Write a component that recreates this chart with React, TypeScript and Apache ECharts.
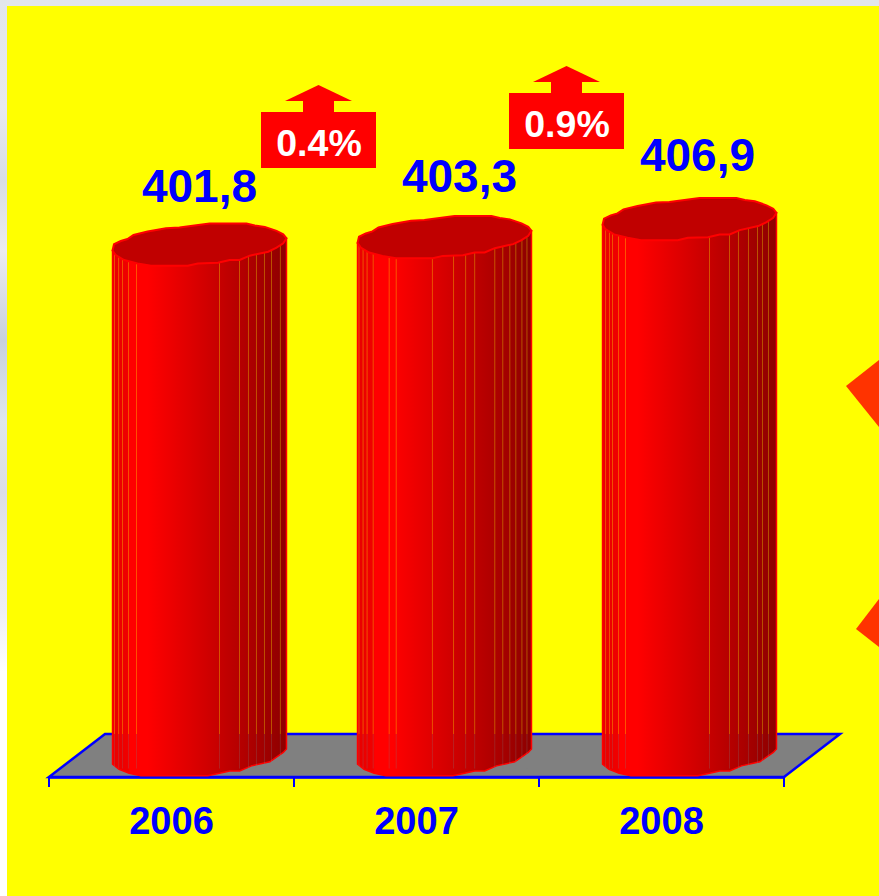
import React, { useEffect, useRef } from "react";
import * as echarts from "echarts";

const categories = ["2006", "2007", "2008"];
const values = [401.8, 403.3, 406.9];
const changeLabels = ["0.4%", "0.9%"];

// Shape templates of the faceted cylinder, in units of its half-width.
const capOutline = [
  [-1, 0.065], [-0.983, -0.006], [-0.905, -0.044], [-0.828, -0.067], [-0.759, -0.113], [-0.597, -0.152],
  [-0.385, -0.191], [-0.231, -0.198], [-0.058, -0.222], [0.116, -0.245], [0.54, -0.245], [0.636, -0.222],
  [0.751, -0.206], [0.886, -0.16], [0.963, -0.121], [1, -0.075], [0.963, -0.017], [0.886, 0.033],
  [0.79, 0.079], [0.578, 0.125], [0.462, 0.175], [0.347, 0.175], [0.212, 0.206], [-0.019, 0.214],
  [-0.135, 0.241], [-0.558, 0.241], [-0.713, 0.214], [-0.867, 0.175], [-0.963, 0.118],
];
const baseOutline = [
  [-1, 0.1], [-0.925, 0.158], [-0.809, 0.204], [-0.674, 0.232], [0.096, 0.232], [0.231, 0.204], [0.347, 0.177],
  [0.462, 0.177], [0.598, 0.119], [0.809, 0.073], [0.881, 0.022], [0.963, -0.035], [1, -0.074],
];
const facetEdges = [
  [-0.977, -0.93, -0.885, -0.816, -0.724, 0.23, 0.46, 0.563, 0.655, 0.747, 0.828, 0.93],
  [-0.983, -0.936, -0.89, -0.82, -0.636, -0.555, -0.139, 0.104, 0.243, 0.347, 0.578, 0.67, 0.751, 0.82, 0.89, 0.948],
  [-0.965, -0.92, -0.885, -0.816, -0.736, 0.23, 0.46, 0.563, 0.678, 0.782, 0.839, 0.908],
];
const labelNudge = [[0, -1.5], [15, -4], [8, -7]];

const W = 879;
const H = 896;
const GRID = { left: 49, right: W - 784, top: 175, bottom: H - 777 };
const AXIS_MIN = 300;
const AXIS_MAX = 420;
const DEPTH_X = 28;
const DEPTH_Y = 21.5;
const HALF_WIDTH_RATIO = 0.355;
const FLOOR_BACK_Y = 734;
const FONT = '"Liberation Sans", Arial, sans-serif';

const sideFill = () =>
  new echarts.graphic.LinearGradient(0, 0, 1, 0, [
    { offset: 0, color: "#e80000" },
    { offset: 0.09, color: "#f00000" },
    { offset: 0.1, color: "#ff0000" },
    { offset: 0.2, color: "#ff0000" },
    { offset: 0.43, color: "#e00000" },
    { offset: 0.6, color: "#c80000" },
    { offset: 0.8, color: "#ac0000" },
    { offset: 1, color: "#8c0000" },
  ]);

function renderCylinder(params: any, api: any) {
  const idx = api.value(0);
  const v = api.value(1);
  const top = api.coord([idx, v]);
  const base = api.coord([idx, AXIS_MIN]);
  const band = api.size([1, 0])[0];
  const r = band * HALF_WIDTH_RATIO;
  const cx = top[0] + DEPTH_X;
  const cyTop = top[1] - DEPTH_Y;
  const cyBase = base[1] - DEPTH_Y;

  const side = [
    [cx - r, cyTop + capOutline[0][1] * r],
    ...baseOutline.map(([a, b]) => [cx + a * r, cyBase + b * r]),
    [cx + r, cyTop + capOutline[15][1] * r],
  ];

  const children: any[] = [
    {
      type: "polygon",
      shape: { points: side },
      style: { fill: sideFill(), stroke: "#ff0000", lineWidth: 1.5 },
    },
  ];
  facetEdges[idx].forEach((e) => {
    const x = cx + e * r;
    children.push({
      type: "line",
      shape: { x1: x, y1: cyTop, x2: x, y2: FLOOR_BACK_Y },
      style: { stroke: "#ffff00", opacity: 0.32, lineWidth: 1 },
    });
    children.push({
      type: "line",
      shape: { x1: x, y1: FLOOR_BACK_Y, x2: x, y2: cyBase + 0.15 * r },
      style: { stroke: "#808080", opacity: 0.25, lineWidth: 1 },
    });
  });
  children.push({
    type: "polygon",
    shape: { points: capOutline.map(([a, b]) => [cx + a * r, cyTop + b * r]) },
    style: { fill: "#c00000", stroke: "#ff0000", lineWidth: 2 },
  });
  const n = labelNudge[idx];
  children.push({
    type: "text",
    style: {
      text: String(v.toFixed(1)).replace(".", ","),
      x: cx + n[0],
      y: cyTop - 57 + n[1],
      fill: "#0000ff",
      font: `bold 46px ${FONT}`,
      align: "center",
      verticalAlign: "middle",
    },
  });
  return { type: "group", children };
}

function callout(label: string, left: number, top: number) {
  const cx = left + 57.5;
  return {
    type: "group",
    z: 20,
    children: [
      { type: "rect", z: 20, shape: { x: left, y: top, width: 115, height: 56 }, style: { fill: "#ff0000" } },
      { type: "rect", z: 20, shape: { x: cx - 15.5, y: top - 11, width: 31, height: 11 }, style: { fill: "#ff0000" } },
      {
        type: "polygon",
        z: 20,
        shape: { points: [[cx - 33.5, top - 11], [cx + 33.5, top - 11], [cx, top - 27]] },
        style: { fill: "#ff0000" },
      },
      {
        type: "text",
        z: 21,
        style: {
          text: label,
          x: cx + 0.5,
          y: top + 31,
          fill: "#ffffff",
          font: `bold 37.5px ${FONT}`,
          align: "center",
          verticalAlign: "middle",
        },
      },
    ],
  };
}

export default function App() {
  const ref = useRef<HTMLDivElement>(null);
  useEffect(() => {
    const chart = echarts.init(ref.current!, undefined, { renderer: "svg" });
    chart.setOption({
      animation: false,
      backgroundColor: "transparent",
      grid: GRID,
      xAxis: {
        type: "category",
        data: categories,
        boundaryGap: true,
        axisLine: { show: true, onZero: false, lineStyle: { color: "#0000ff", width: 2.5 } },
        axisTick: { show: true, length: 10, lineStyle: { color: "#0000ff", width: 2 } },
        axisLabel: {
          color: "#0000ff",
          fontFamily: FONT,
          fontWeight: "bold",
          fontSize: 38,
          margin: 25,
        },
      },
      yAxis: { type: "value", min: AXIS_MIN, max: AXIS_MAX, show: false, splitLine: { show: false } },
      graphic: [
        { type: "rect", z: -10, shape: { x: 7, y: 6, width: W - 7, height: H - 6 }, style: { fill: "#ffff00" } },
        {
          type: "polygon",
          z: -5,
          shape: { points: [[49, 777], [784, 777], [840, FLOOR_BACK_Y], [105, FLOOR_BACK_Y]] },
          style: { fill: "#808080", stroke: "#0000ff", lineWidth: 2.5 },
        },
        { type: "polygon", z: -4, shape: { points: [[879, 360], [846, 386], [879, 427]] }, style: { fill: "#ff3300" } },
        { type: "polygon", z: -4, shape: { points: [[879, 599], [856, 629], [879, 647]] }, style: { fill: "#ff3300" } },
        callout(changeLabels[0], 261, 112),
        callout(changeLabels[1], 509, 93),
      ],
      series: [
        {
          type: "custom",
          z: 5,
          clip: false,
          renderItem: renderCylinder,
          data: values.map((v, i) => [i, v]),
          encode: { x: 0, y: 1 },
        },
      ],
    });
    return () => chart.dispose();
  }, []);
  return (
    <div
      ref={ref}
      style={{
        position: "absolute",
        left: 0,
        top: 0,
        width: W,
        height: H,
        background:
          "linear-gradient(180deg,#e2e6ec 0,#e8e9ef 12%,#d8dde6 20%,#ecebf1 28%,#c8d0de 38%,#dfe6ec 47%,#dcdde6 55%,#e8e8ee 62%,#eeeef4 68%,#ffffff 75%,#ffffff 100%)",
      }}
    />
  );
}
